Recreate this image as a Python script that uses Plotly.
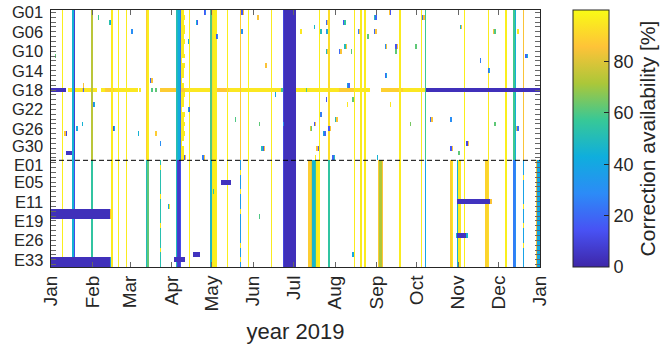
import numpy as np
import pandas as pd
import plotly.graph_objects as go

# ---------------- data ----------------
gps_sats = ['G01', 'G02', 'G03', 'G05', 'G06', 'G07', 'G08', 'G09', 'G10', 'G11',
            'G12', 'G13', 'G14', 'G15', 'G16', 'G17', 'G18', 'G19', 'G20', 'G21',
            'G22', 'G23', 'G24', 'G25', 'G26', 'G27', 'G28', 'G29', 'G30', 'G31', 'G32']
gal_sats = ['E01', 'E02', 'E03', 'E04', 'E05', 'E07', 'E08', 'E09', 'E11', 'E12',
            'E13', 'E15', 'E19', 'E21', 'E24', 'E25', 'E26', 'E27', 'E30', 'E31',
            'E33', 'E36']
tick_sats = ['G01', 'G06', 'G10', 'G14', 'G18', 'G22', 'G26', 'G30',
             'E01', 'E05', 'E11', 'E19', 'E26', 'E33']
month_ticks = ['2019-01-01', '2019-02-01', '2019-03-01', '2019-04-01', '2019-05-01',
               '2019-06-01', '2019-07-01', '2019-08-01', '2019-09-01', '2019-10-01',
               '2019-11-01', '2019-12-01', '2020-01-01']
month_labels = ['Jan', 'Feb', 'Mar', 'Apr', 'May', 'Jun', 'Jul', 'Aug', 'Sep',
                'Oct', 'Nov', 'Dec', 'Jan']
cbar_ticks = [0, 20, 40, 60, 80]

# days of the year where all satellites of a system show the same value
# (first day, last day, GPS value, Galileo value)  day 0 = 1 Jan 2019
column_events = [
    (8, 8, 97, 97), (16, 16, 45, 45), (17, 17, 8, 12), (30, 30, 74, 55),
    (45, 45, 96, 96), (50, 50, 97, 97), (56, 56, 96, 96),
    (71, 71, 88, 50), (72, 72, 97, 62), (81, 81, None, 52),
    (93, 93, 52, 50), (94, 94, 48, 8), (95, 95, 42, 6), (96, 96, 22, 12),
    (103, 103, 97, 97), (119, 119, 60, 48), (120, 120, 92, 95), (121, 123, 97, 97),
    (131, 131, 97, 97), (141, 141, 88, 35), (147, 147, 98, 98), (164, 164, 96, 96),
    (173, 173, 10, 10), (174, 182, 3, 3),
    (192, 193, None, 88), (194, 194, None, 80), (195, 196, None, 46),
    (197, 197, None, 55), (198, 198, None, 95), (199, 199, None, 97),
    (200, 200, 97, 97), (207, 207, 92, 55), (226, 226, 96, 96), (231, 231, 96, 96),
    (234, 234, 96, 96), (244, 244, None, 88), (245, 246, None, 72), (247, 247, None, 86),
    (260, 260, 96, 96), (276, 276, 96, 96), (279, 279, 58, 40),
    (298, 298, None, 88), (299, 299, None, 96), (303, 303, None, 45),
    (304, 305, None, 95), (308, 308, 97, 97), (324, 325, None, 90), (326, 326, 96, 92),
    (339, 339, 97, 97), (345, 345, 58, 25), (346, 346, 45, 30), (352, 352, 85, 38),
    (362, 362, None, 85), (363, 364, None, 40),
]

# G18 long series (satellite, first day, last day, value)
g18_series = [
    ('G18', 13, 22, 96), ('G18', 23, 23, 85), ('G18', 24, 24, 20), ('G18', 25, 33, 95),
    ('G18', 37, 39, 96), ('G18', 40, 46, 88), ('G18', 47, 64, 95), ('G18', 66, 66, 96),
    ('G18', 75, 75, 60), ('G18', 78, 78, 62), ('G18', 81, 99, 88), ('G18', 100, 118, 95),
    ('G18', 119, 132, 87), ('G18', 133, 171, 95), ('G18', 172, 172, 58),
    ('G18', 183, 189, 96), ('G18', 190, 190, 60), ('G18', 191, 214, 95),
    ('G18', 215, 226, 88), ('G18', 227, 237, 95), ('G18', 246, 262, 89),
    ('G18', 263, 278, 95),
]

# short yellow tail after the April event, days from day 97, per GPS satellite
april_tail_len = [2, 3, 2, 3, 3, 2, 3, 2, 2, 3, 1, 3, 2, 2, 1, 2, 0, 3, 2, 2,
                  1, 3, 2, 3, 2, 3, 2, 1, 2, 2, 2]

# outages (satellite, first day, last day, value)
outages = [
    ('G18', 0, 10, 3), ('G18', 280, 364, 3), ('G31', 11, 15, 5),
    ('E13', 0, 43, 3), ('E15', 0, 43, 3), ('E33', 0, 43, 3), ('E36', 0, 43, 3),
    ('E05', 127, 133, 4), ('E33', 92, 99, 4), ('E31', 106, 110, 4),
    ('E11', 303, 327, 4), ('E25', 303, 309, 4),
]

# isolated days (satellite, day, value)
spots = [
    ('E13', 44, 85), ('E15', 44, 85), ('E33', 44, 35), ('E36', 44, 35),
    ('E25', 302, 45), ('E25', 310, 45), ('E11', 328, 85),
    ('G02', 35, 58), ('G03', 43, 52), ('G03', 44, 40), ('G06', 60, 30), ('G11', 3, 62),
    ('G17', 24, 85), ('G21', 31, 25), ('G21', 32, 45), ('G25', 23, 45), ('G26', 19, 40),
    ('G27', 10, 85), ('G27', 11, 10), ('G26', 46, 12), ('G26', 47, 45), ('G27', 65, 45),
    ('G01', 114, 15), ('G01', 115, 25), ('G03', 108, 45), ('G03', 109, 15),
    ('G07', 123, 15), ('G07', 124, 30), ('G08', 102, 40), ('G16', 74, 20), ('G16', 75, 85),
    ('G22', 102, 45), ('G22', 103, 15), ('G27', 78, 88), ('G29', 81, 30),
    ('G32', 99, 15), ('G32', 100, 85), ('G32', 113, 25), ('G32', 114, 85),
    ('E12', 87, 40), ('E12', 88, 95), ('E08', 121, 55),
    ('G01', 142, 15), ('G01', 143, 85), ('G02', 154, 85), ('G06', 141, 85), ('G06', 142, 30),
    ('G13', 160, 85), ('G19', 167, 40), ('G24', 137, 60), ('G25', 155, 62), ('G25', 173, 30),
    ('G30', 157, 50), ('G30', 158, 15), ('G30', 159, 85),
    ('G06', 186, 95), ('G05', 196, 48), ('G06', 201, 50), ('G23', 201, 25),
    ('G25', 196, 15), ('G25', 197, 85), ('G26', 193, 80), ('G26', 194, 62),
    ('G30', 198, 85), ('G30', 199, 15), ('G32', 197, 95), ('E15', 155, 60),
    ('G01', 252, 85), ('G01', 253, 15), ('G02', 241, 50), ('G02', 242, 20),
    ('G03', 205, 20), ('G03', 206, 85), ('G03', 218, 15), ('G03', 219, 55),
    ('G06', 205, 30), ('G06', 206, 50), ('G06', 229, 25), ('G06', 230, 85), ('G07', 236, 62),
    ('G06', 241, 20), ('G06', 242, 85), ('G09', 249, 30), ('G09', 250, 85),
    ('G09', 257, 15), ('G09', 258, 85), ('G10', 257, 62), ('G10', 205, 50), ('G10', 206, 85),
    ('G10', 215, 20), ('G10', 216, 85), ('G09', 219, 50), ('G09', 220, 85), ('G10', 224, 62),
    ('G15', 249, 20), ('G15', 250, 40), ('G17', 221, 40), ('G17', 222, 20),
    ('G20', 205, 15), ('G21', 221, 95), ('G20', 225, 62), ('G21', 253, 95),
    ('G24', 212, 50), ('G24', 213, 85), ('G26', 207, 15), ('G26', 208, 85),
    ('G27', 203, 40), ('G27', 204, 20), ('G32', 210, 20), ('G32', 211, 50), ('G32', 243, 45),
    ('E31', 225, 40), ('G25', 268, 65),
    ('G02', 277, 20), ('G02', 278, 85), ('G05', 305, 50), ('G05', 306, 85),
    ('G06', 330, 85), ('G06', 331, 60), ('G09', 272, 62), ('G12', 320, 25),
    ('G14', 326, 20), ('G14', 327, 45), ('G24', 283, 20), ('G24', 284, 85), ('G24', 298, 30),
    ('G25', 331, 62), ('G29', 310, 10), ('G29', 311, 85), ('G30', 298, 15), ('G30', 299, 85),
    ('G31', 304, 62), ('G06', 348, 95), ('G11', 354, 20), ('G11', 355, 45),
    ('G26', 347, 80), ('G26', 348, 20),
    ('E03', 141, 95), ('E08', 141, 95), ('E13', 141, 95), ('E27', 141, 95), ('E33', 141, 95),
    ('E02', 81, 95), ('E09', 81, 95), ('E21', 81, 95), ('E30', 81, 95),
    ('E04', 352, 95), ('E12', 352, 95), ('E21', 352, 95), ('E27', 352, 95),
]

# ---------------- build grid ----------------
sats = gps_sats + gal_sats
n_gps = len(gps_sats)
n_days = 365
row = {s: i for i, s in enumerate(sats)}
days = pd.date_range('2019-01-01 12:00', periods=n_days, freq='D')
NO_DATA = -1.0
z = np.full((len(sats), n_days), NO_DATA)

for s, a, b, v in g18_series:
    z[row[s], a:b + 1] = v
for a, b, g, e in column_events:
    if g is not None:
        z[:n_gps, a:b + 1] = g
    if e is not None:
        z[n_gps:, a:b + 1] = e
for s, n in zip(gps_sats, april_tail_len):
    if n:
        z[row[s], 97:97 + n] = 96
for s, a, b, v in outages:
    z[row[s], a:b + 1] = v
for s, d, v in spots:
    z[row[s], d] = v

parula_stops = [0.0, 0.143, 0.286, 0.429, 0.571, 0.714, 0.857, 1.0]
parula_cols = ['rgb(62,38,168)', 'rgb(72,82,244)', 'rgb(44,139,247)', 'rgb(15,174,221)',
               'rgb(55,200,151)', 'rgb(171,199,57)', 'rgb(254,195,56)', 'rgb(249,251,21)']
parula = [[s, c] for s, c in zip(parula_stops, parula_cols)]

# heatmap scale spans [-1, 100]: cells without data (-1) are white
zmin_h, zmax_h = NO_DATA, 100.0
edge = (0 - zmin_h) / (zmax_h - zmin_h)
heat_scale = [[0.0, 'white'], [edge * 0.5, 'white']]
for s, c in zip(parula_stops, parula_cols):
    heat_scale.append([edge + s * (1 - edge), c])
heat_scale[2][0] = edge * 0.5 + 1e-6

axis_col = '#262626'
fnt = 'Liberation Sans, Arial, sans-serif'

fig = go.Figure()
fig.add_trace(go.Heatmap(
    x=days, y=sats, z=z, zmin=zmin_h, zmax=zmax_h, colorscale=heat_scale,
    showscale=False, hoverinfo='skip',
))

# colour bar (same parula scale, 0-100 %)
fig.add_trace(go.Scatter(
    x=[None], y=[None], mode='markers', hoverinfo='skip',
    marker=dict(color=[0, 100], cmin=0, cmax=100, colorscale=parula, showscale=True,
                colorbar=dict(x=(576 - 51) / 492, xanchor='left', xpad=0, y=0.5,
                              yanchor='middle', len=1, lenmode='fraction', ypad=0,
                              thickness=36, thicknessmode='pixels',
                              outlinewidth=1, outlinecolor=axis_col, ticks='inside',
                              ticklen=5, tickcolor=axis_col, tickvals=cbar_ticks,
                              tickfont=dict(size=18, color=axis_col, family=fnt),
                              title=dict(text='Correction availability [%]', side='right',
                                         font=dict(size=21, color=axis_col, family=fnt)))),
))

fig.add_shape(type='line', xref='paper', x0=0, x1=1, yref='y',
              y0=n_gps - 0.5, y1=n_gps - 0.5,
              line=dict(color='black', width=1, dash='5px,3px'))

# satellite labels (G30 / E01 sit only three rows apart: nudge them apart)
label_shift = {'G30': 2.5, 'E01': -2.5}
for s in tick_sats:
    fig.add_annotation(x=0, xref='paper', xanchor='right', xshift=-7,
                       y=s, yref='y', yanchor='middle', yshift=label_shift.get(s, 0),
                       text=s, showarrow=False, borderpad=0,
                       font=dict(size=16.5, color=axis_col, family=fnt))

fig.update_layout(
    width=669, height=347, margin=dict(l=51, r=126, t=10, b=80),
    paper_bgcolor='white', plot_bgcolor='white',
    font=dict(family=fnt, color=axis_col, size=19),
    showlegend=False,
    xaxis=dict(type='date', range=['2019-01-01', '2020-01-01'], tickvals=month_ticks,
               ticktext=month_labels, tickangle=-90, ticks='inside', ticklen=5,
               tickcolor='#666666', showline=True, linecolor=axis_col, linewidth=1,
               mirror='ticks', showgrid=False, zeroline=False, automargin=False,
               tickfont=dict(size=19),
               title=dict(text='year 2019', font=dict(size=22), standoff=13)),
    yaxis=dict(type='category', categoryorder='array', categoryarray=sats,
               range=[len(sats) - 0.5, -0.5], tickvals=sats, showticklabels=False,
               ticks='inside', ticklen=5, tickcolor='#666666', showline=True,
               linecolor=axis_col, linewidth=1, mirror='ticks', showgrid=False,
               zeroline=False, automargin=False),
)

fig.write_html('out.html', config={'displayModeBar': False},
               post_script="document.body.style.margin='0';"
                           "document.documentElement.style.overflow='hidden';")
